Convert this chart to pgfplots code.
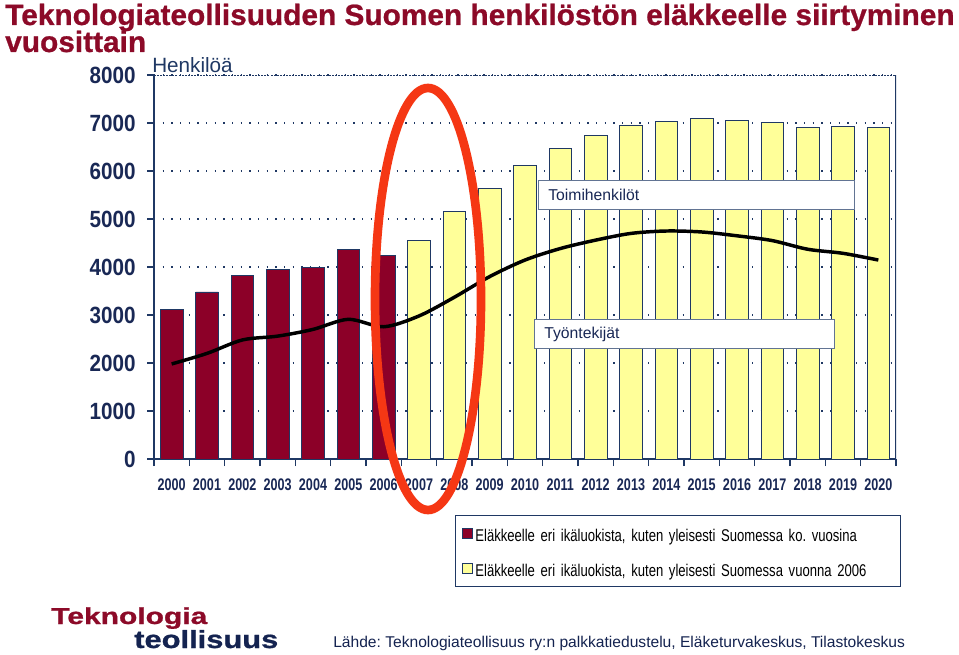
\documentclass[border=0pt]{standalone}
\usepackage{fontspec}
\usepackage{graphicx}
\usepackage{pgfplots}
\pgfplotsset{compat=1.18}
\setmainfont{Liberation Sans}
\frenchspacing
\newfontfamily\ynarrow{Liberation Sans Bold}[FakeStretch=0.88]
\newfontfamily\xnarrow{Liberation Sans Bold}[FakeStretch=0.75]
\newfontfamily\legfont{Liberation Sans}[FakeStretch=0.77,WordSpace=0.8]
\newfontfamily\titlefont{Liberation Sans Bold}[FakeStretch=1.017,FakeBold=0.8]
\newfontfamily\logofont{Liberation Sans Bold}[FakeBold=0.8]
\definecolor{titlered}{RGB}{140,10,40}
\definecolor{barred}{RGB}{140,0,40}
\definecolor{baryel}{RGB}{255,255,153}
\definecolor{navy}{RGB}{31,56,100}
\definecolor{ticknavy}{RGB}{25,40,85}
\definecolor{ellred}{RGB}{245,55,20}
\definecolor{logonavy}{RGB}{20,35,80}
\begin{document}
\begin{tikzpicture}[x=0.75pt,y=-0.75pt]
\useasboundingbox[fill=white] (0,0) rectangle (959,655);
\begin{axis}[
  at={(115.5pt,-344.25pt)}, anchor=south west,
  scale only axis, width=556.5pt, height=288pt,
  xmin=-0.5, xmax=20.5, ymin=0, ymax=8000,
  axis x line*=bottom, axis y line*=left,
  axis line style={-, draw=navy, line width=1.1pt},
  xtick={0,...,20},
  xticklabels={2000,2001,2002,2003,2004,2005,2006,2007,2008,2009,2010,2011,2012,2013,2014,2015,2016,2017,2018,2019,2020},
  major x tick style={draw=none},
  minor xtick={-0.5,0.5,...,20.5},
  minor x tick style={draw=navy, line width=1.1pt},
  ytick={0,1000,...,8000},
  y tick style={draw=navy, line width=1.1pt},
  tick align=outside, major tick length=5.25pt, minor tick length=5.25pt,
  ymajorgrids,
  grid style={draw=navy, line width=1.3pt, dash pattern=on 1pt off 5.5pt},
  xticklabel style={font=\xnarrow\fontsize{12.6}{14}\selectfont, text=ticknavy, yshift=-6pt},
  yticklabel style={font=\ynarrow\fontsize{17.6}{20}\selectfont, text=ticknavy, xshift=-5pt},
  /pgf/number format/1000 sep={},
  /pgf/number format/assume math mode=true,
  legend style={at={(0.4057,-0.1458)}, anchor=north west, draw=navy, line width=0.9pt, fill=white,
    font=\legfont\fontsize{12.75}{14}\selectfont, row sep=10.25pt, inner ysep=5.5pt, inner xsep=5pt,
    nodes={text width=312pt, align=left, text height=12pt, text depth=0pt, inner sep=2pt}},
  legend cell align=left,
  sqlegend/.style={legend image code/.code={\draw[##1,line width=0.6pt] (1.5pt,-3.6pt) rectangle (8.7pt,3.6pt);}},
]
\addplot[ybar, bar width=0.64, bar shift=0pt, fill=barred, draw=navy, line width=0.6pt, sqlegend]
  coordinates {(0,3125) (1,3480) (2,3830) (3,3940) (4,3990) (5,4375) (6,4235)};
\addlegendentry{Eläkkeelle eri ikäluokista, kuten yleisesti Suomessa ko. vuosina}
\addplot[ybar, bar width=0.64, bar shift=0pt, fill=baryel, draw=navy, line width=0.6pt, sqlegend]
  coordinates {(7,4555) (8,5150) (9,5645) (10,6125) (11,6470) (12,6745) (13,6960) (14,7040) (15,7090) (16,7060) (17,7015) (18,6900) (19,6925) (20,6900)};
\addlegendentry{Eläkkeelle eri ikäluokista, kuten yleisesti Suomessa vuonna 2006}
\addplot[black, line width=2.6pt, smooth, tension=0.5, mark=none, forget plot]
  coordinates {(0,1980) (1,2200) (2,2480) (3,2560) (4,2700) (5,2910) (6,2755) (7,2980) (8,3370) (9,3800) (10,4145) (11,4385) (12,4560) (13,4700) (14,4750) (15,4730) (16,4650) (17,4550) (18,4370) (19,4285) (20,4145)};
\draw[navy, line width=1.1pt] (rel axis cs:1,0) -- (rel axis cs:1,1);
\draw[navy, line width=1.1pt, dash pattern=on 1.5pt off 0.8pt] (rel axis cs:0,1) -- (rel axis cs:1,1);
\end{axis}
% title
\node[anchor=base west, inner sep=0, text=titlered, font=\titlefont\fontsize{22}{24}\selectfont] at (5,25) {Teknologiateollisuuden Suomen henkilöstön eläkkeelle siirtyminen};
\node[anchor=base west, inner sep=0, text=titlered, font=\titlefont\fontsize{22}{24}\selectfont] at (5,52) {vuosittain};
\node[anchor=base west, inner sep=0, text=navy, font=\fontsize{15.5}{17}\selectfont] at (152,73) {Henkilöä};
% boxes
\draw[navy!70, line width=0.6pt, fill=white] (538,180) rectangle (854,209);
\node[anchor=west, inner sep=0, text=ticknavy, font=\fontsize{11.8}{13}\selectfont] at (548,195) {Toimihenkilöt};
\draw[navy!70, line width=0.6pt, fill=white] (534,319) rectangle (834,348);
\node[anchor=west, inner sep=0, text=ticknavy, font=\fontsize{11.8}{13}\selectfont] at (544,334) {Työntekijät};
% ellipse
\draw[ellred, line width=6.5pt] (428,299) ellipse [x radius=53, y radius=211];
% logo
\node[anchor=base west, inner sep=0, text=titlered] at (51,624) {\resizebox{117pt}{12.5pt}{\logofont Teknologia}};
\node[anchor=base west, inner sep=0, text=logonavy] at (134,648) {\resizebox{108pt}{13.5pt}{\logofont teollisuus}};
\node[anchor=base west, inner sep=0, text=logonavy, font=\fontsize{11.7}{13}\selectfont] at (333,647) {Lähde: Teknologiateollisuus ry:n palkkatiedustelu, Eläketurvakeskus, Tilastokeskus};
\end{tikzpicture}
\end{document}
